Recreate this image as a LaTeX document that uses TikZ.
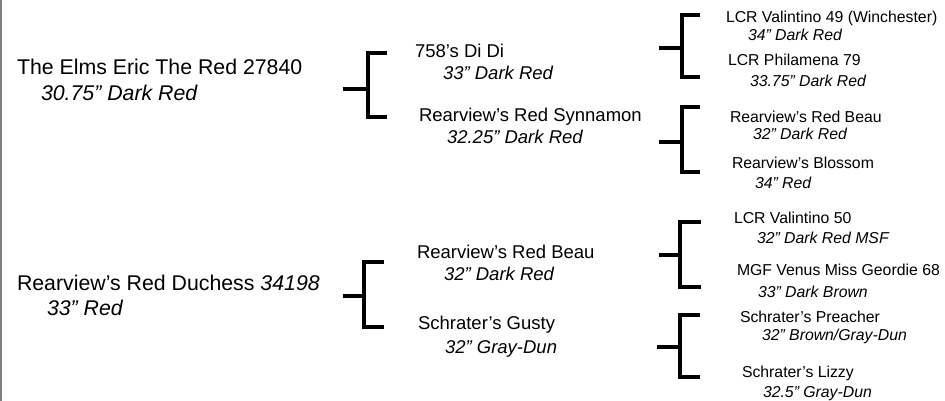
\documentclass[tikz,border=0pt]{standalone}
\usepackage{fontspec}
\setmainfont{Liberation Sans}
\begin{document}
\begin{tikzpicture}[x=1pt,y=-1pt,
  lbl/.style={anchor=base west,inner sep=0pt,outer sep=0pt,text=black},
  big/.style={lbl,font=\fontsize{21.3}{24}\selectfont},
  mid/.style={lbl,font=\fontsize{18.5}{22}\selectfont},
  sml/.style={lbl,font=\fontsize{15.8}{19}\selectfont},
  brk/.style={line width=4pt,black,line cap=butt,line join=miter},
  edge/.style={draw=gray,line width=2pt}]
\useasboundingbox (0,0) rectangle (945,401);
\coordinate (et) at (1,0);
\coordinate (eb) at (1,401);
\draw[edge] (et) -- (eb);
% generation 1
\node[big] (g1a) at (17,75) {The Elms Eric The Red 27840};
\node[big] (g1as) at (41,101) {\itshape 30.75” Dark Red};
\node[big] (g1b) at (17,290) {Rearview’s Red Duchess \itshape 34198};
\node[big] (g1bs) at (47,315) {\itshape 33” Red};
% generation 2
\node[mid] (g2a) at (415,58) {758’s Di Di};
\node[mid] (g2as) at (443,80) {\itshape 33” Dark Red};
\node[mid] (g2b) at (419,122) {Rearview’s Red Synnamon};
\node[mid] (g2bs) at (447,143) {\itshape 32.25” Dark Red};
\node[mid] (g2c) at (417,258) {Rearview’s Red Beau};
\node[mid] (g2cs) at (444,280) {\itshape 32” Dark Red};
\node[mid] (g2d) at (418,329) {Schrater’s Gusty};
\node[mid] (g2ds) at (445,353) {\itshape 32” Gray-Dun};
% generation 3
\node[sml] (g3a) at (726,23) {LCR Valintino 49 (Winchester)};
\node[sml] (g3as) at (748,41) {\itshape 34” Dark Red};
\node[sml] (g3b) at (728,66) {LCR Philamena 79};
\node[sml] (g3bs) at (750,87) {\itshape 33.75” Dark Red};
\node[sml] (g3c) at (730,123) {Rearview’s Red Beau};
\node[sml] (g3cs) at (753,140) {\itshape 32” Dark Red};
\node[sml] (g3d) at (732,168) {Rearview’s Blossom};
\node[sml] (g3ds) at (755,188) {\itshape 34” Red};
\node[sml] (g3e) at (734,223) {LCR Valintino 50};
\node[sml] (g3es) at (757,243) {\itshape 32” Dark Red MSF};
\node[sml] (g3f) at (737,275) {MGF Venus Miss Geordie 68};
\node[sml] (g3fs) at (758,297) {\itshape 33” Dark Brown};
\node[sml] (g3g) at (740,322) {Schrater’s Preacher};
\node[sml] (g3gs) at (762,340) {\itshape 32” Brown/Gray-Dun};
\node[sml] (g3h) at (742,377) {Schrater’s Lizzy};
\node[sml] (g3hs) at (763,397) {\itshape 32.5” Gray-Dun};
% brackets: stem start, stem y, vertical x, top y, bottom y, arm end
\foreach \n/\sx/\sy/\vx/\ty/\by/\ax in {b1/343/89/368/53/117/387, b2/343/296/364/262/327/384,
  b3/659/48/682/15/77/700, b4/659/142/682/107/172/700, b5/659/255/680/222/287/701, b6/657/347/680/315/377/700}{
  \coordinate (\n s) at (\sx,\sy);
  \coordinate (\n m) at (\vx,\sy);
  \coordinate (\n t) at (\ax,\ty);
  \coordinate (\n b) at (\ax,\by);
  \draw[brk] (\n s) -- (\n m);
  \draw[brk] (\n t) -| (\vx,\sy) |- (\n b);
}
\end{tikzpicture}
\end{document}
